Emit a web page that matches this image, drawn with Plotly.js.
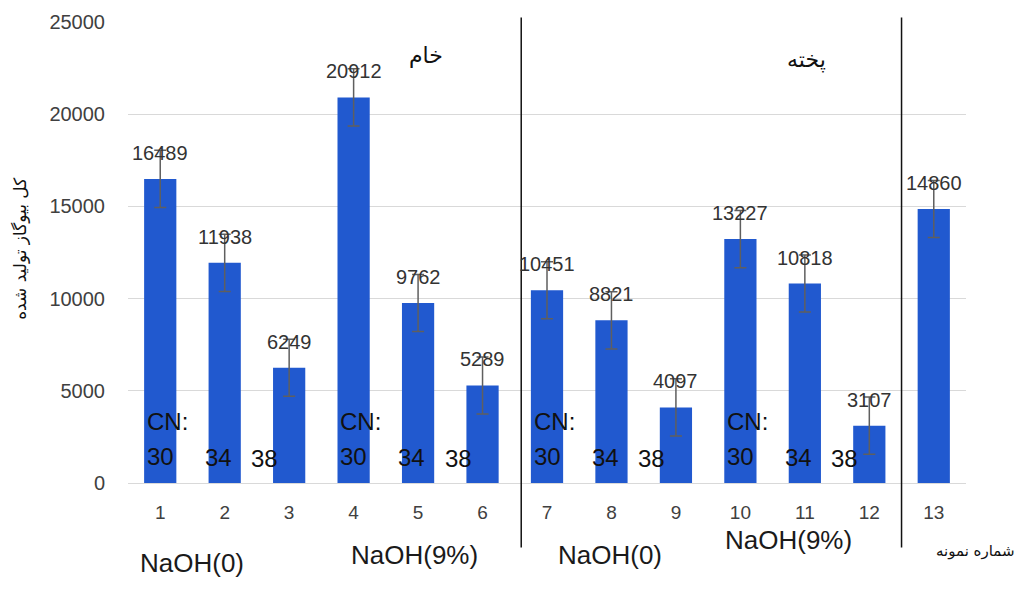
<!DOCTYPE html>
<html>
<head>
<meta charset="utf-8">
<script src="https://cdn.plot.ly/plotly-3.0.1.min.js"></script>
<style>html,body{margin:0;padding:0;background:#fff;}#chart{width:1027px;height:592px;}</style>
</head>
<body>
<div id="chart"></div>
<script>
// ---- data ----
const samples = [1,2,3,4,5,6,7,8,9,10,11,12,13];
const biogas = [16489,11938,6249,20912,9762,5289,10451,8821,4097,13227,10818,3107,14860];
const errors = [1550,1550,1550,1550,1550,1550,1550,1550,1550,1550,1550,1550,1550];
const cnGroupStarts = [1,4,7,10];
const cnValues = ['30','34','38'];
const groupLabels = ['NaOH(0)','NaOH(9%)','NaOH(0)','NaOH(9%)'];
const stateLabels = ['خام','پخته'];
const yTitle = 'کل بیوگاز تولید شده';
const xTitle = 'شماره نمونه';

const FONT = 'Liberation Sans, Arial, sans-serif';
const GRAY = '#404040';

const trace = {
  type:'bar', x:samples, y:biogas, width:0.5,
  marker:{color:'#2159cf', line:{width:0}},
  error_y:{type:'data', array:errors, visible:true, color:'#5f5f5f', thickness:1.5, width:6},
  hoverinfo:'x+y'
};

const annotations = [];
// value labels
samples.forEach((s,i)=>{
  annotations.push({x:s, y:biogas[i], xref:'x', yref:'y', text:String(biogas[i]), showarrow:false,
    yshift:26, font:{family:FONT, size:20, color:'#333333'}});
});
// CN labels
cnGroupStarts.forEach(g=>{
  annotations.push({x:g-0.24, y:3350, xref:'x', yref:'y', text:'CN:', showarrow:false, xanchor:'left',
    font:{family:FONT, size:24, color:'#111'}});
  const offs=[ -0.24, 0.66, 1.38 ];
  cnValues.forEach((v,k)=>{
    annotations.push({x:g+offs[k], y:1450-k*50, xref:'x', yref:'y', text:v, showarrow:false, xanchor:'left',
      font:{family:FONT, size:24, color:'#111'}});
  });
});
// state labels
annotations.push({x:5.12, y:23200, xref:'x', yref:'y', text:stateLabels[0], showarrow:false, font:{family:'DejaVu Sans', size:22, color:'#111'}});
annotations.push({x:11.02, y:22950, xref:'x', yref:'y', text:stateLabels[1], showarrow:false, font:{family:'DejaVu Sans', size:22, color:'#111'}});
// group labels below
const gx=[1.5,4.94,7.97,10.75];
const gy=[-0.21,-0.194,-0.192,-0.161];
groupLabels.forEach((t,i)=>{
  annotations.push({x:gx[i], y:gy[i], xref:'x', yref:'paper', text:t, showarrow:false, xanchor:'center',
    font:{family:FONT, size:26, color:'#1a1a1a'}});
});
// axis titles
annotations.push({x:-0.129, y:0.51, xref:'paper', yref:'paper', text:yTitle, showarrow:false, textangle:-90,
  xanchor:'center', yanchor:'middle', font:{family:'DejaVu Sans', size:17, color:'#111'}});
annotations.push({x:1.011, y:-0.148, xref:'paper', yref:'paper', text:xTitle, showarrow:false,
  xanchor:'center', yanchor:'middle', font:{family:'DejaVu Sans', size:15, color:'#111'}});

const shapes = [6.6,12.5].map(xv=>({type:'line', xref:'x', yref:'paper', x0:xv, x1:xv, y0:-0.14, y1:1.01,
  line:{color:'#111', width:1.5}}));

const layout = {
  width:1027, height:592,
  margin:{l:128, r:61, t:22, b:109},
  paper_bgcolor:'#fff', plot_bgcolor:'#fff',
  showlegend:false,
  xaxis:{range:[0.5,13.5], tickvals:samples, ticktext:samples.map(String), showgrid:false, zeroline:false,
    showline:false, ticks:'', tickfont:{family:FONT, size:19, color:GRAY}, ticklabelstandoff:16, fixedrange:true},
  yaxis:{range:[0,25000], dtick:5000, showgrid:true, gridcolor:'#d9d9d9', gridwidth:1, zeroline:true,
    zerolinecolor:'#d9d9d9', zerolinewidth:1, showline:false, ticks:'', tickformat:'d',
    tickfont:{family:FONT, size:20, color:GRAY}, ticklabelstandoff:22, fixedrange:true},
  annotations:annotations,
  shapes:shapes
};

Plotly.newPlot('chart',[trace],layout,{displayModeBar:false, staticPlot:true});
</script>
</body>
</html>
